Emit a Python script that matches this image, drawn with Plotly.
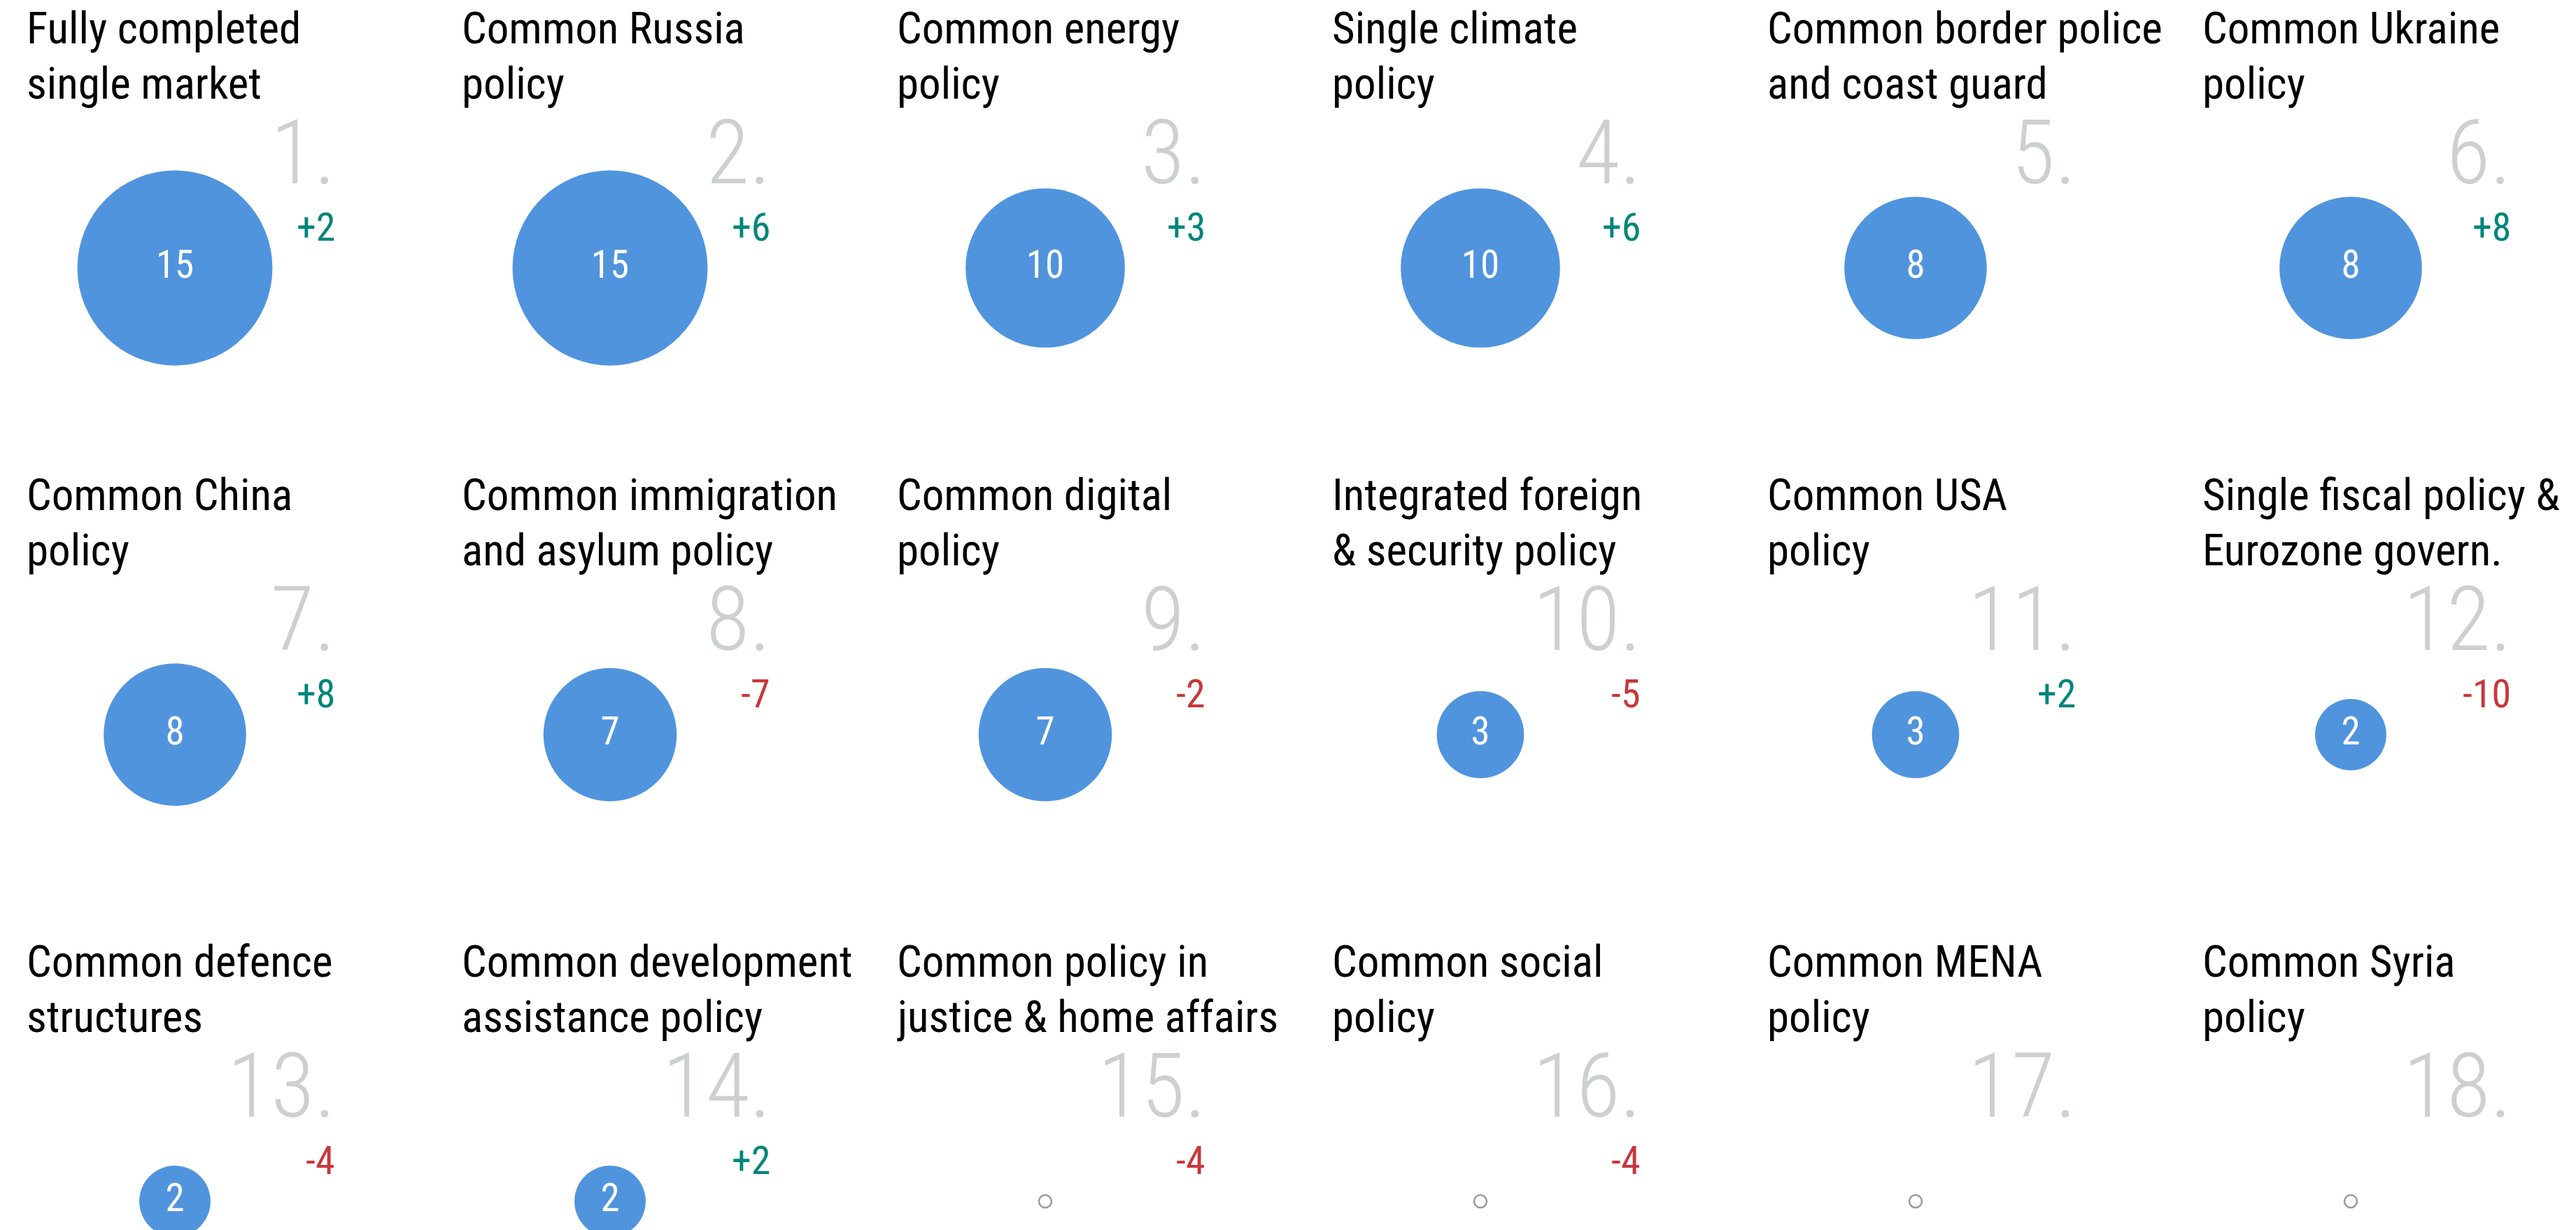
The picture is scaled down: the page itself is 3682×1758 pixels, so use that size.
import plotly.graph_objects as go

# policy areas, in rank order (3 rows of 6)
policies = [
    'Fully completed<br>single market', 'Common Russia<br>policy', 'Common energy<br>policy',
    'Single climate<br>policy', 'Common border police<br>and coast guard', 'Common Ukraine<br>policy',
    'Common China<br>policy', 'Common immigration<br>and asylum policy', 'Common digital<br>policy',
    'Integrated foreign<br>& security policy', 'Common USA<br>policy', 'Single fiscal policy &<br>Eurozone govern.',
    'Common defence<br>structures', 'Common development<br>assistance policy', 'Common policy in<br>justice & home affairs',
    'Common social<br>policy', 'Common MENA<br>policy', 'Common Syria<br>policy',
]
scores = [15, 15, 10, 10, 8, 8, 8, 7, 7, 3, 3, 2, 2, 2, 0, 0, 0, 0]
changes = [2, 6, 3, 6, None, 8, 8, -7, -2, -5, 2, -10, -4, 2, -4, -4, None, None]
ranks = list(range(1, 19))

N_COLS = 6
BLUE = '#5094de'
GREEN = '#00857a'
RED = '#c8373a'
RANK_GRAY = '#cdd0d1'
FONT = 'Roboto Condensed, DejaVu Sans Condensed, sans-serif'

cols = [i % N_COLS for i in range(len(policies))]
rows = [i // N_COLS for i in range(len(policies))]

W, H = 3682, 1758
COL_PITCH, ROW_PITCH = 622, 667
X0, Y0 = 250, 383

fig = go.Figure()

filled = [i for i, s in enumerate(scores) if s > 0]
empty = [i for i, s in enumerate(scores) if s == 0]

# bubble area ~ score
fig.add_trace(go.Scatter(
    x=[cols[i] for i in filled], y=[rows[i] for i in filled],
    mode='markers+text',
    text=[str(scores[i]) for i in filled],
    textposition='middle center',
    textfont=dict(family=FONT, size=55, color='white'),
    marker=dict(size=[scores[i] for i in filled], sizemode='area', sizeref=1 / 2592,
                color=BLUE, line=dict(width=0), opacity=1),
    hoverinfo='skip', showlegend=False
))
# zero scores get a small ring
fig.add_trace(go.Scatter(
    x=[cols[i] for i in empty], y=[rows[i] for i in empty],
    mode='markers',
    marker=dict(symbol='circle-open', size=18, color='#9b9b9b', line=dict(width=2.5)),
    hoverinfo='skip', showlegend=False
))

annotations = []
for i, title in enumerate(policies):
    c, r = cols[i], rows[i]
    for k, line in enumerate(title.split('<br>')):
        annotations.append(dict(
            x=c, y=r, text=line, showarrow=False, xanchor='left', yanchor='middle',
            xshift=-214, yshift=343 - 79 * k,
            font=dict(family=FONT, size=63, color='black')
        ))
    annotations.append(dict(
        x=c, y=r, text=f'{ranks[i]}.', showarrow=False, xanchor='right', yanchor='middle',
        xshift=232, yshift=165,
        font=dict(family=FONT, size=128, color=RANK_GRAY, weight=300)
    ))
    if changes[i] is not None:
        annotations.append(dict(
            x=c, y=r, text=f'{changes[i]:+d}', showarrow=False, xanchor='right', yanchor='middle',
            xshift=231, yshift=58,
            font=dict(family=FONT, size=56, color=GREEN if changes[i] > 0 else RED)
        ))

fig.update_xaxes(range=[-X0 / COL_PITCH, (W - X0) / COL_PITCH], visible=False, fixedrange=True)
fig.update_yaxes(range=[(H - Y0) / ROW_PITCH, -Y0 / ROW_PITCH], visible=False, fixedrange=True)
fig.update_layout(
    width=W, height=H,
    margin=dict(l=0, r=0, t=0, b=0),
    paper_bgcolor='white', plot_bgcolor='white',
    annotations=annotations,
)
fig.write_html('out.html', config={'displayModeBar': False},
               post_script="document.body.style.margin='0';")
